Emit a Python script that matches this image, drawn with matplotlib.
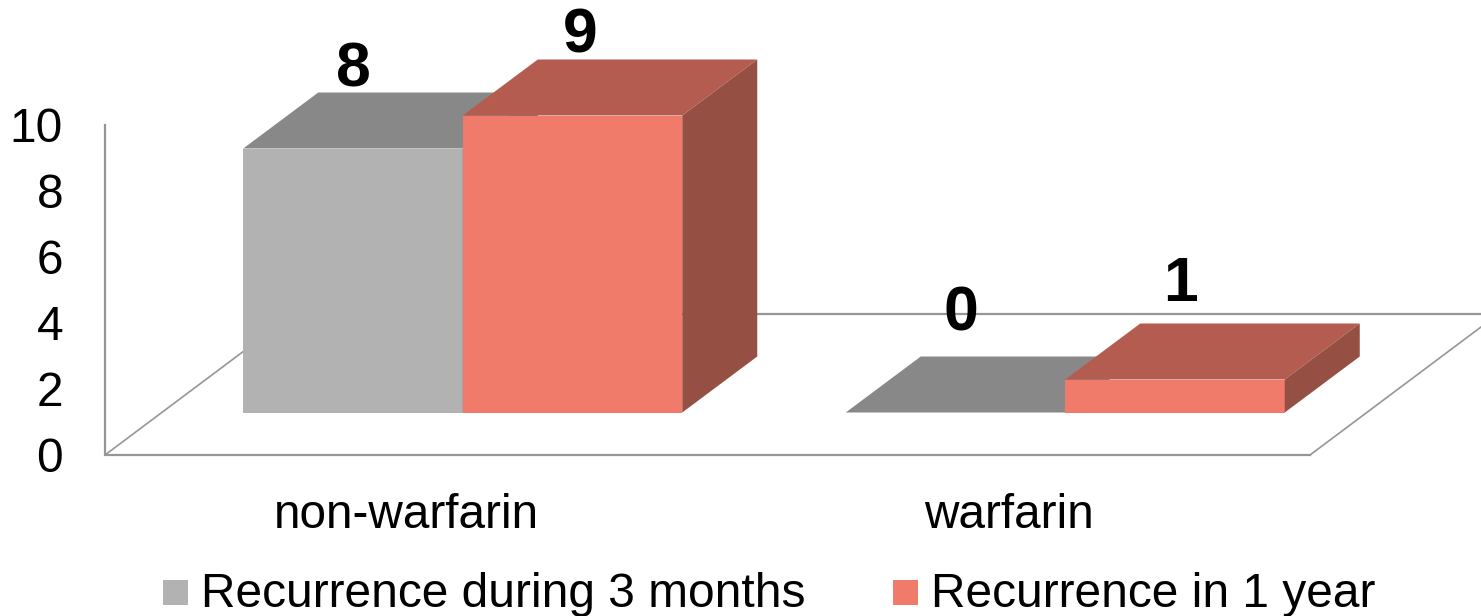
import matplotlib
matplotlib.use('Agg')
import matplotlib.pyplot as plt
import matplotlib.patches as mpatches

plt.rcParams['font.family'] = ['Liberation Sans', 'DejaVu Sans']

# values
categories = ['non-warfarin', 'warfarin']
series_names = ['Recurrence during 3 months', 'Recurrence in 1 year']
recurrence_3m = [8, 0]
recurrence_1y = [9, 1]
y_ticks = [0, 2, 4, 6, 8, 10]

W, H = 1481, 616
UX = 602.5  # pixels per category
UY = 33.0   # pixels per y unit
X0, Y0 = 105, 455  # pixel of the chart origin

fig = plt.figure(figsize=(W / 100, H / 100), dpi=100)
ax = fig.add_axes([0, 0, 1, 1])
ax.set_xlim(-X0 / UX, (W - X0) / UX)
ax.set_ylim(-(H - Y0) / UY, Y0 / UY)
ax.axis('off')

# fake 3d offsets, in data units
depth_x = 75 / UX
depth_y = 56 / UY
shift_x = 56.5 / UX
shift_y = 42.5 / UY
bar_w = 219.5 / UX

line_c = '#969696'
floor_x = 171 / UX
floor_y = 128 / UY
back_y = 141 / UY
ax.plot([0, 0, 2], [10, 0, 0], color=line_c, lw=1.6, zorder=1)
ax.plot([2, 2 + floor_x], [0, floor_y], color=line_c, lw=1.2, zorder=1)
ax.plot([0, floor_x], [0, floor_y], color=line_c, lw=1.2, zorder=1)
ax.plot([floor_x, 2 + floor_x], [back_y, back_y], color=line_c, lw=1.6, zorder=1)


def bar3d(x, v, front, top, side, z):
    b = shift_y
    ax.fill([x, x + bar_w, x + bar_w, x], [b, b, b + v, b + v], color=front, lw=0, zorder=z)
    ax.fill([x, x + bar_w, x + bar_w + depth_x, x + depth_x],
            [b + v, b + v, b + v + depth_y, b + v + depth_y], color=top, lw=0, zorder=z)
    ax.fill([x + bar_w, x + bar_w + depth_x, x + bar_w + depth_x, x + bar_w],
            [b, b + depth_y, b + v + depth_y, b + v], color=side, lw=0, zorder=z)


# hand nudges for the value labels, in pixels
nudge_3m = [(0, 1), (5, 2)]
nudge_1y = [(8, 4), (5, 1)]
for i in range(len(categories)):
    c = i + 0.5 + shift_x
    bar3d(c - bar_w, recurrence_3m[i], '#b2b2b2', '#888888', '#7a7a7a', 2)
    bar3d(c, recurrence_1y[i], '#f07b6a', '#b55c50', '#964f43', 3)
    ax.text(c - bar_w / 2 + nudge_3m[i][0] / UX, 4.21 + 0.93 * recurrence_3m[i] + nudge_3m[i][1] / UY,
            str(recurrence_3m[i]), ha='center', va='center', fontsize=45, fontweight='bold',
            color='black', zorder=5)
    ax.text(c + bar_w / 2 + nudge_1y[i][0] / UX, 4.21 + 0.93 * recurrence_1y[i] + nudge_1y[i][1] / UY,
            str(recurrence_1y[i]), ha='center', va='center', fontsize=45, fontweight='bold',
            color='black', zorder=5)
    ax.text(i + 0.5, -1.835, categories[i], ha='center', va='center', fontsize=34.4)

for t in y_ticks:
    ax.text(-42 / UX, t - 4 / UY, str(t), ha='right', va='center', fontsize=34.4)

# legend, placed by hand
trans = ax.transAxes
for px, name, col in [(163, series_names[0], '#b2b2b2'), (893, series_names[1], '#f07b6a')]:
    ax.add_patch(mpatches.Rectangle((px / W, 1 - 604.5 / H), 25 / W, 25 / H, transform=trans,
                                    facecolor=col, edgecolor='none'))
    ax.text((px + 38) / W, 1 - 607 / H, name, transform=trans, fontsize=34.5, va='baseline', ha='left')

fig.savefig('out.png', dpi=100)
